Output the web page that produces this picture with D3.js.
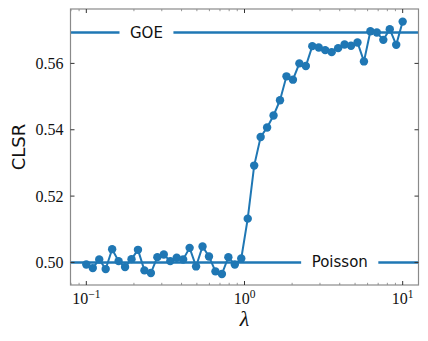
<!DOCTYPE html>
<html><head><meta charset="utf-8">
<script src="https://cdn.jsdelivr.net/npm/d3@7"></script>
<style>body{margin:0;background:#fff}svg{display:block}</style>
</head><body>
<svg id="c" width="428" height="341"></svg>
<script>
const lambdas = [0.1,0.10985,0.12068,0.13257,0.14563,0.15999,0.17575,0.19307,0.2121,0.233,
0.25595,0.28118,0.30888,0.33932,0.37276,0.40949,0.44984,0.49417,0.54287,0.59636,
0.65513,0.71969,0.7906,0.86851,0.9541,1.04811,1.1514,1.26486,1.3895,1.52642,
1.67683,1.84207,2.02359,2.223,2.44205,2.6827,2.94705,3.23746,3.55648,3.90694,
4.29193,4.71487,5.17947,5.68987,6.25055,6.86649,7.54312,8.28643,9.10298,10.0];
const clsr = [0.4994,0.4983,0.5009,0.4980,0.5040,0.5004,0.4986,0.5010,0.5038,0.4976,
0.4968,0.5016,0.5024,0.5004,0.5014,0.5009,0.5044,0.4988,0.5048,0.5018,
0.4973,0.4965,0.5016,0.4994,0.5012,0.5132,0.5292,0.5378,0.5407,0.5443,
0.5489,0.5561,0.5551,0.5600,0.5592,0.5652,0.5648,0.5640,0.5634,0.5646,
0.5657,0.5653,0.5663,0.5606,0.5697,0.5693,0.5671,0.5703,0.5656,0.5726];
const refNames = ["GOE","Poisson"];
const refValues = [0.5693,0.5];
const refLabelX = [0.24,4.0];
const yTicks = [0.50,0.52,0.54,0.56];
const xTicks = [0.1,1,10];
const xTickExp = ["\u22121","0","1"];

const color = "#1f77b4";
const W=428,H=341, m={l:70.5,r:9.5,t:9,b:56};
const svg=d3.select("#c");
const x=d3.scaleLog().domain([Math.pow(10,-1.1),Math.pow(10,1.1)]).range([m.l,W-m.r]);
const y=d3.scaleLinear().domain([0.4932,0.5764]).range([H-m.b,m.t]);

// reference lines with labels
refNames.forEach((name,i)=>{
  const yy=y(refValues[i]);
  svg.append("line").attr("x1",m.l).attr("x2",W-m.r).attr("y1",yy).attr("y2",yy)
    .attr("stroke",color).attr("stroke-width",2.6);
  const g=svg.append("g");
  const r=g.append("rect").attr("fill","#fff");
  const t=g.append("text").attr("x",x(refLabelX[i])).attr("y",yy)
    .attr("text-anchor","middle").attr("dominant-baseline","central")
    .attr("font-family","DejaVu Sans").attr("font-size",15).attr("fill","#111").text(name);
  const bb=t.node().getBBox();
  r.attr("x",bb.x-10.5).attr("y",bb.y-1).attr("width",bb.width+21).attr("height",bb.height+2);
});

// data
svg.append("path").datum(d3.range(lambdas.length))
  .attr("d",d3.line().x(i=>x(lambdas[i])).y(i=>y(clsr[i])))
  .attr("fill","none").attr("stroke",color).attr("stroke-width",2);
svg.append("g").selectAll("circle").data(d3.range(lambdas.length)).join("circle")
  .attr("cx",i=>x(lambdas[i])).attr("cy",i=>y(clsr[i])).attr("r",4.2).attr("fill",color);

// frame
const ax="#8a8a8a";
svg.append("rect").attr("x",m.l).attr("y",m.t).attr("width",W-m.l-m.r).attr("height",H-m.t-m.b)
  .attr("fill","none").attr("stroke",ax).attr("stroke-width",1.2);

// x ticks (inward, both sides)
const [d0,d1]=x.domain();
const minor=[];
for(let e=-2;e<=1;e++){for(let k=2;k<=9;k++){const v=k*Math.pow(10,e);if(v>=d0&&v<=d1)minor.push(v);}}
const yb=H-m.b, yt=m.t;
minor.forEach(v=>{
  svg.append("line").attr("x1",x(v)).attr("x2",x(v)).attr("y1",yb).attr("y2",yb-2.2).attr("stroke",ax).attr("stroke-width",0.9);
  svg.append("line").attr("x1",x(v)).attr("x2",x(v)).attr("y1",yt).attr("y2",yt+2.2).attr("stroke",ax).attr("stroke-width",0.9);
});
xTicks.forEach((v,i)=>{
  svg.append("line").attr("x1",x(v)).attr("x2",x(v)).attr("y1",yb).attr("y2",yb-4).attr("stroke","#333").attr("stroke-width",1);
  svg.append("line").attr("x1",x(v)).attr("x2",x(v)).attr("y1",yt).attr("y2",yt+4).attr("stroke","#333").attr("stroke-width",1);
  const t=svg.append("text").attr("x",x(v)).attr("y",yb+18.5).attr("text-anchor","middle")
    .attr("font-family","Liberation Serif").attr("font-size",16).attr("fill","#111");
  t.append("tspan").text("10");
  t.append("tspan").attr("dy",-6).attr("font-size",11.5).text(xTickExp[i]);
});
// y ticks
yTicks.forEach(v=>{
  svg.append("line").attr("x1",m.l).attr("x2",m.l+4).attr("y1",y(v)).attr("y2",y(v)).attr("stroke","#333").attr("stroke-width",1);
  svg.append("line").attr("x1",W-m.r).attr("x2",W-m.r-4).attr("y1",y(v)).attr("y2",y(v)).attr("stroke","#333").attr("stroke-width",1);
  svg.append("text").attr("x",m.l-7).attr("y",y(v)).attr("dy","0.35em").attr("text-anchor","end")
    .attr("font-family","Liberation Serif").attr("font-size",16).attr("fill","#111").text(v.toFixed(2));
});

// axis labels
svg.append("text").attr("transform","translate(25,147) rotate(-90)").attr("text-anchor","middle")
  .attr("font-family","DejaVu Sans").attr("font-size",18).attr("fill","#111").text("CLSR");
svg.append("text").attr("x",x(1)).attr("y",326).attr("text-anchor","middle")
  .attr("font-family","Liberation Serif").attr("font-style","italic").attr("font-size",22).attr("fill","#111").text("\u03bb");
</script>
</body></html>
